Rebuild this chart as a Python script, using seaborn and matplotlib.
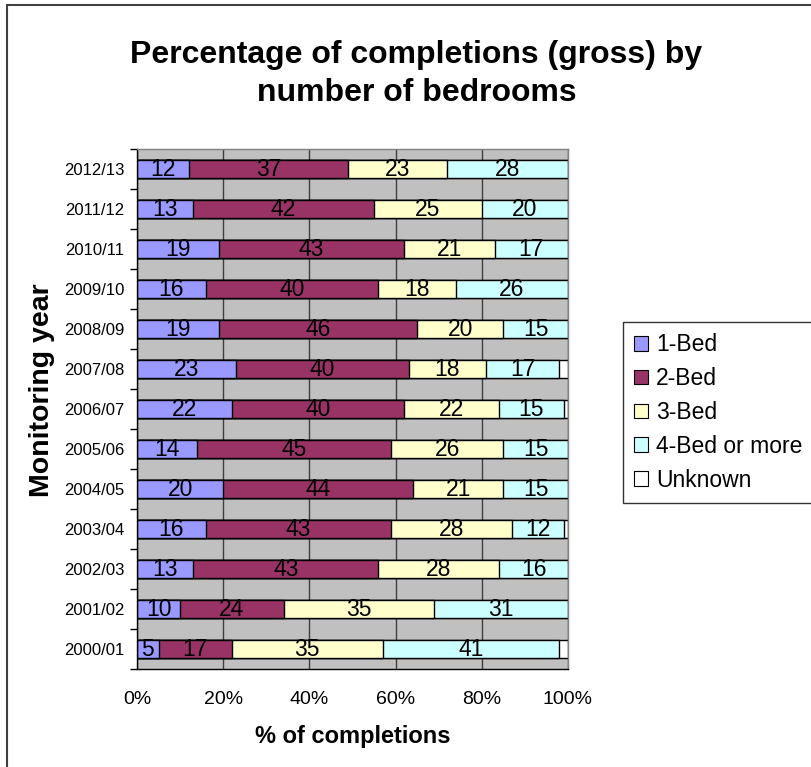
import numpy as np
import pandas as pd
import matplotlib
matplotlib.use("Agg")
import matplotlib.pyplot as plt
from matplotlib.patches import Rectangle, Patch
from matplotlib.ticker import PercentFormatter, FixedLocator
import seaborn as sns

years = ["2000/01", "2001/02", "2002/03", "2003/04", "2004/05", "2005/06",
         "2006/07", "2007/08", "2008/09", "2009/10", "2010/11", "2011/12", "2012/13"]
bed1 = [5, 10, 13, 16, 20, 14, 22, 23, 19, 16, 19, 13, 12]
bed2 = [17, 24, 43, 43, 44, 45, 40, 40, 46, 40, 43, 42, 37]
bed3 = [35, 35, 28, 28, 21, 26, 22, 18, 20, 18, 21, 25, 23]
bed4 = [41, 31, 16, 12, 15, 15, 15, 17, 15, 26, 17, 20, 28]
unknown = [2, 0, 0, 1, 0, 0, 1, 2, 0, 0, 0, 0, 0]

series_names = ["1-Bed", "2-Bed", "3-Bed", "4-Bed or more", "Unknown"]
series_colors = ["#9999FF", "#993366", "#FFFFCC", "#CCFFFF", "#FFFFFF"]

sns.set_theme(style="white")
plt.rcParams["font.family"] = ["Liberation Sans", "DejaVu Sans"]
plt.rcParams.update({"text.color": "black", "axes.labelcolor": "black",
                     "xtick.color": "black", "ytick.color": "black"})

df = pd.DataFrame({"year": years, "1-Bed": bed1, "2-Bed": bed2, "3-Bed": bed3,
                   "4-Bed or more": bed4, "Unknown": unknown})
cum = df[series_names].cumsum(axis=1)
cum["year"] = df["year"]

fig = plt.figure(figsize=(8.12, 7.67), dpi=100)
ax = fig.add_axes([137 / 812, 1 - 669 / 767, (568 - 137) / 812, (669 - 149) / 767])
ax.set_facecolor("#C0C0C0")

order = years[::-1]
# Stacked bars: draw cumulative totals from the outermost series inwards
for name, color in zip(series_names[::-1], series_colors[::-1]):
    sns.barplot(data=cum, x=name, y="year", order=order, orient="h", ax=ax,
                color=color, saturation=1, width=0.43, edgecolor="black",
                linewidth=1.0)

# Value labels centred in each segment (Unknown left unlabelled)
for name in series_names[:-1]:
    for yr, val, end in zip(df["year"], df[name], cum[name]):
        if val > 0:
            ax.text(end - val / 2, order.index(yr), f"{val}", ha="center",
                    va="center", fontsize=16.5, color="black")

ax.set_xlim(0, 100)
ax.set_ylim(len(years) - 0.5, -0.5)
ax.xaxis.set_major_locator(FixedLocator([0, 20, 40, 60, 80, 100]))
ax.xaxis.set_major_formatter(PercentFormatter(xmax=100, decimals=0))
ax.grid(axis="x", color="#404040", linewidth=1.0)
ax.set_axisbelow(True)
ax.yaxis.set_minor_locator(FixedLocator(np.arange(-0.5, len(years), 1.0)))
ax.tick_params(axis="x", which="major", direction="out", length=5, width=1,
               color="black", labelsize=14, pad=11)
ax.tick_params(axis="y", which="major", length=0, labelsize=12, pad=9)
ax.tick_params(axis="y", which="minor", direction="out", length=5, width=1,
               color="black", left=True)
for side in ["left", "bottom"]:
    ax.spines[side].set_color("black")
    ax.spines[side].set_linewidth(1.0)
for side in ["top", "right"]:
    ax.spines[side].set_color("#808080")
    ax.spines[side].set_linewidth(1.0)

ax.set_xlabel("% of completions", fontsize=17, fontweight="bold", labelpad=12)
ax.set_ylabel("Monitoring year", fontsize=20.5, fontweight="bold")
ax.yaxis.set_label_coords(-0.19, 0.537)

fig.text(0.513, 1 - 74 / 767,
         "Percentage of completions (gross) by\nnumber of bedrooms",
         ha="center", va="center", fontsize=23, fontweight="bold",
         linespacing=1.38)

handles = [Patch(facecolor=c, edgecolor="black", linewidth=0.8) for c in series_colors]
leg = fig.legend(handles, series_names, loc="upper left",
                 bbox_to_anchor=(623 / 812, 1 - 322 / 767), fontsize=16.5,
                 frameon=True, fancybox=False, edgecolor="black",
                 handlelength=0.6, handleheight=0.6, handletextpad=0.35,
                 labelspacing=0.47, borderpad=0.5, borderaxespad=0)
leg.get_frame().set_linewidth(1.0)

# Outer chart frame
fig.patches.append(Rectangle((7 / 812, -0.1), 1.2, 1 - 5 / 767 + 0.1,
                             transform=fig.transFigure, fill=False,
                             edgecolor="#404040", linewidth=1.5))

fig.savefig("out.png", dpi=100)
